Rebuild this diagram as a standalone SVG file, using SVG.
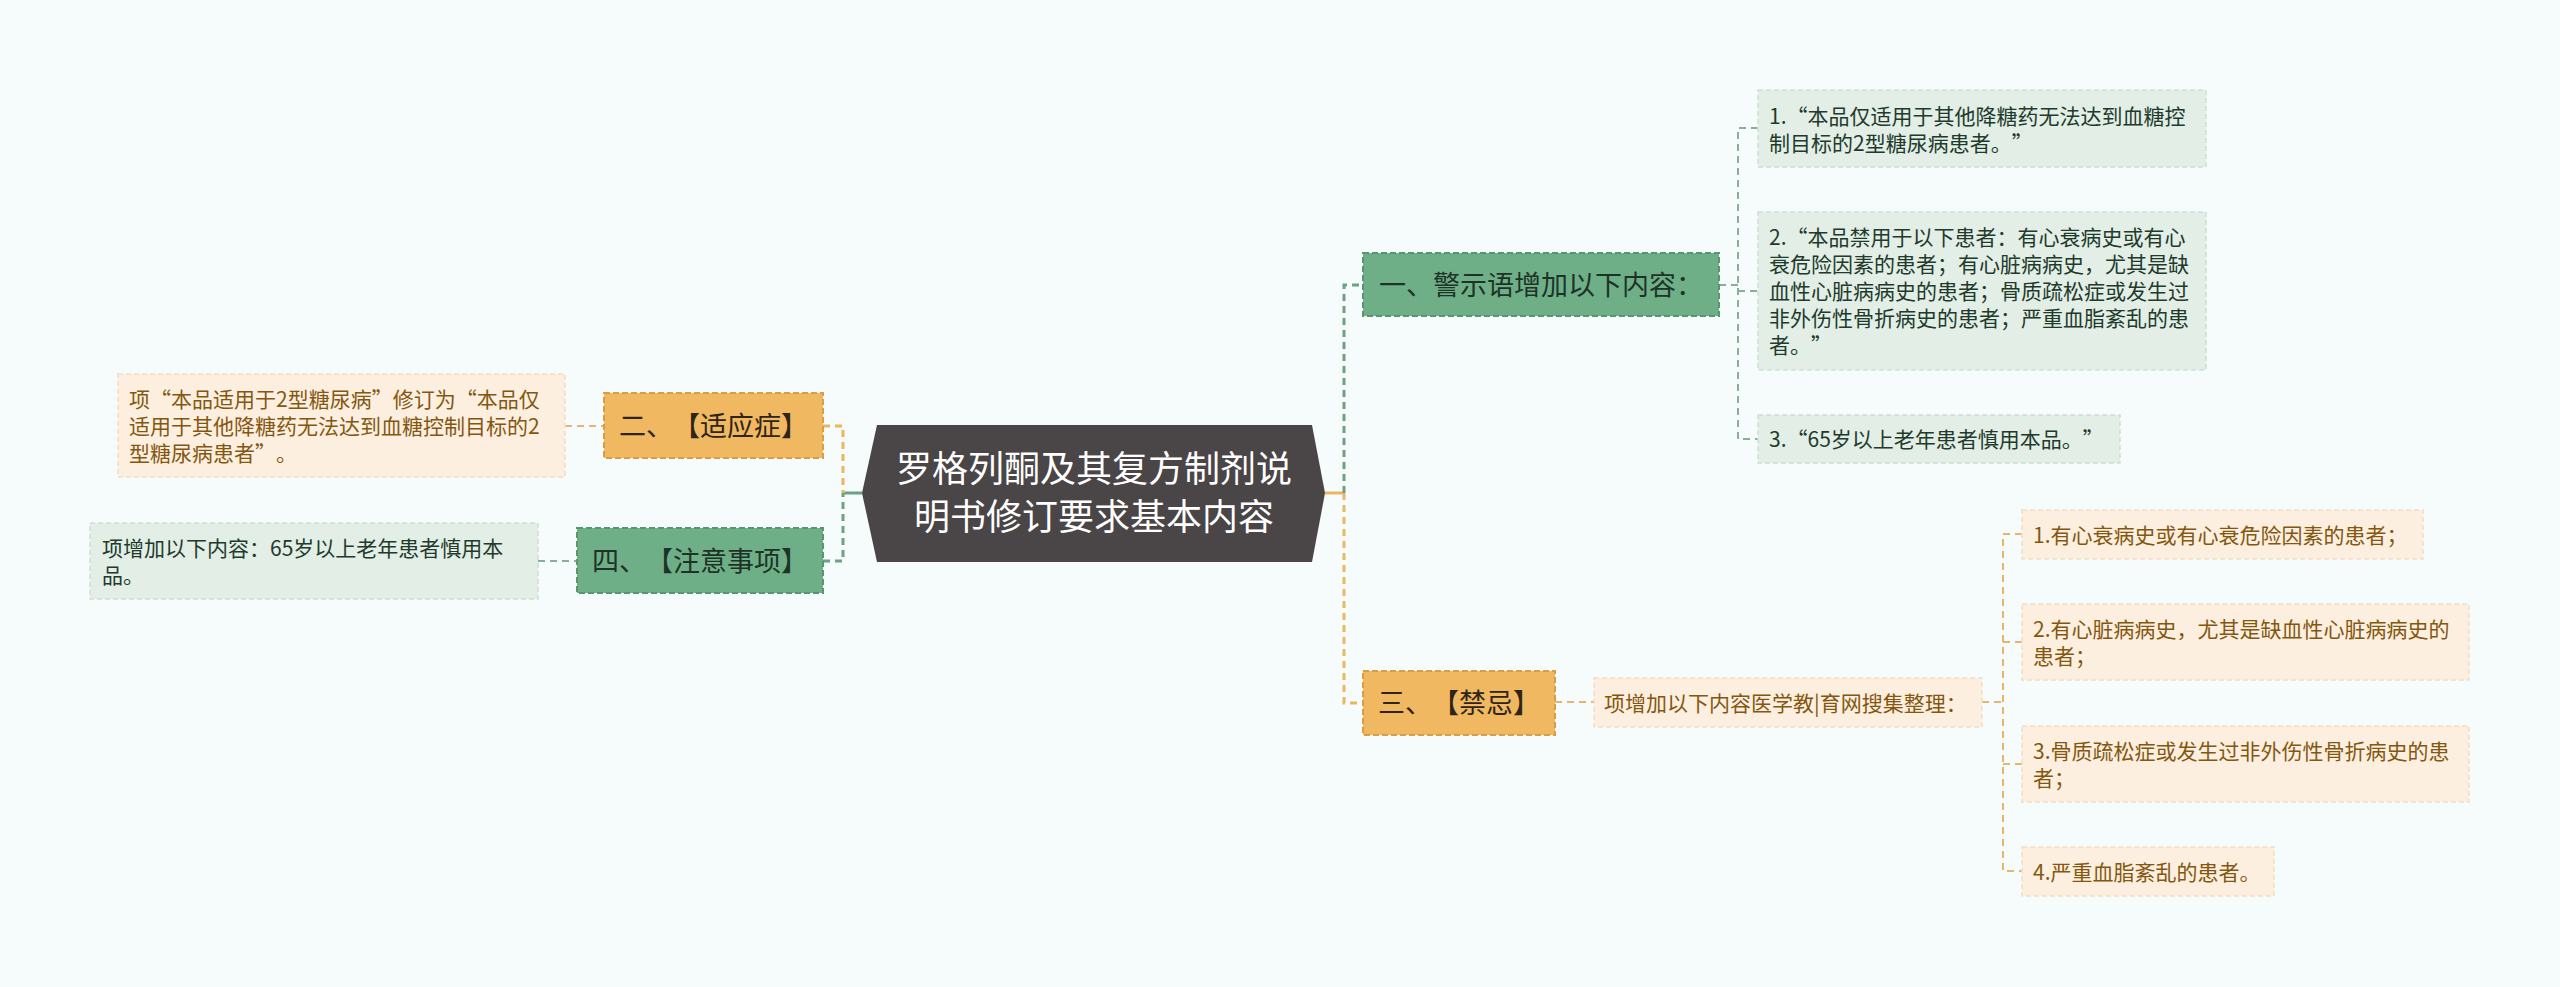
<svg xmlns="http://www.w3.org/2000/svg" width="2560" height="987" viewBox="0 0 2560 987">
<style>
text{font-family:"Noto Sans CJK SC","Noto Sans",sans-serif;text-spacing-trim:space-all;}
.root{font-size:36px;fill:#ffffff;text-anchor:middle;}
.br{font-size:27px;text-anchor:middle;}
.lf{font-size:21px;}
.obox{fill:#F0B961;stroke:#D99E45;stroke-width:2;stroke-dasharray:6 3;}
.gbox{fill:#6FAF87;stroke:#5A9572;stroke-width:2;stroke-dasharray:6 3;}
.olf{fill:#FCEFDF;stroke:#F3DEC4;stroke-width:1.5;stroke-dasharray:5 3;}
.glf{fill:#E2EEE6;stroke:#D0E0D6;stroke-width:1.5;stroke-dasharray:5 3;}
.otx{fill:#2E2418;}
.gtx{fill:#1E3327;}
.otl{fill:#845710;}
.gtl{fill:#213A2B;}
.co{fill:none;stroke:#EBB660;stroke-width:3;stroke-dasharray:7 5;}
.cg{fill:none;stroke:#6AA381;stroke-width:3;stroke-dasharray:7 5;}
.cos{fill:none;stroke:#EBB660;stroke-width:3;}
.cgs{fill:none;stroke:#6AA381;stroke-width:3;}
.lo{fill:none;stroke:#E6B56E;stroke-width:2;stroke-dasharray:7 5;}
.lg{fill:none;stroke:#8AAE98;stroke-width:2;stroke-dasharray:7 5;}
</style>
<rect width="2560" height="987" fill="#F6FBFB"/>
<g id="connectors">
<path class="cgs" d="M843,493 H862"/>
<path class="co" d="M823,426 H843 V493"/>
<path class="cg" d="M823,561 H843 V493"/>
<path class="lo" d="M565,426 H604"/>
<path class="lg" d="M538,561 H577"/>
<path class="cos" d="M1325,493 H1344"/>
<path class="cg" d="M1344,493 V285 H1363"/>
<path class="co" d="M1344,493 V703 H1363"/>
<path class="lg" d="M1719,285 H1738"/>
<path class="lg" d="M1758,128 H1738 V439 H1758"/>
<path class="lg" d="M1738,291 H1758"/>
<path class="lo" d="M1555,702 H1594"/>
<path class="lo" d="M1982,702 H2003"/>
<path class="lo" d="M2022,534 H2003 V871 H2022"/>
<path class="lo" d="M2003,642 H2022"/>
<path class="lo" d="M2003,764 H2022"/>
</g>
<g id="root">
<polygon points="877,425 1312,425 1325,493 1312,562 877,562 862,493" fill="#4A4546"/>
<text class="root" x="1094" y="482">罗格列酮及其复方制剂说</text>
<text class="root" x="1094" y="530">明书修订要求基本内容</text>
</g>
<g id="b2">
<rect class="obox" x="604" y="393" width="219" height="65"/>
<text class="br otx" x="713.5" y="436">二、【适应症】</text>
</g>
<g id="b2-leaf">
<rect class="olf" x="118" y="374" width="447" height="103"/>
<text class="lf otl" x="129" y="407">项“本品适用于2型糖尿病”修订为“本品仅</text>
<text class="lf otl" x="129" y="434">适用于其他降糖药无法达到血糖控制目标的2</text>
<text class="lf otl" x="129" y="461">型糖尿病患者”。</text>
</g>
<g id="b4">
<rect class="gbox" x="577" y="528" width="246" height="65"/>
<text class="br gtx" x="700" y="571">四、【注意事项】</text>
</g>
<g id="b4-leaf">
<rect class="glf" x="90" y="523" width="448" height="76"/>
<text class="lf gtl" x="102" y="556">项增加以下内容：65岁以上老年患者慎用本</text>
<text class="lf gtl" x="102" y="583">品。</text>
</g>
<g id="b1">
<rect class="gbox" x="1363" y="253" width="356" height="63"/>
<text class="br gtx" x="1541" y="295">一、警示语增加以下内容：</text>
</g>
<g id="b1-leaf1">
<rect class="glf" x="1758" y="90" width="448" height="77"/>
<text class="lf gtl" x="1769" y="124">1.“本品仅适用于其他降糖药无法达到血糖控</text>
<text class="lf gtl" x="1769" y="151">制目标的2型糖尿病患者。”</text>
</g>
<g id="b1-leaf2">
<rect class="glf" x="1758" y="212" width="448" height="158"/>
<text class="lf gtl" x="1769" y="245">2.“本品禁用于以下患者：有心衰病史或有心</text>
<text class="lf gtl" x="1769" y="272">衰危险因素的患者；有心脏病病史，尤其是缺</text>
<text class="lf gtl" x="1769" y="299">血性心脏病病史的患者；骨质疏松症或发生过</text>
<text class="lf gtl" x="1769" y="326">非外伤性骨折病史的患者；严重血脂紊乱的患</text>
<text class="lf gtl" x="1769" y="353">者。”</text>
</g>
<g id="b1-leaf3">
<rect class="glf" x="1758" y="415" width="362" height="48"/>
<text class="lf gtl" x="1769" y="447">3.“65岁以上老年患者慎用本品。”</text>
</g>
<g id="b3">
<rect class="obox" x="1363" y="671" width="192" height="64"/>
<text class="br otx" x="1459" y="713">三、【禁忌】</text>
</g>
<g id="b3-mid">
<rect class="olf" x="1594" y="678" width="388" height="49"/>
<text class="lf otl" x="1604" y="711">项增加以下内容医学教|育网搜集整理：</text>
</g>
<g id="b3-leaf1">
<rect class="olf" x="2022" y="510" width="401" height="49"/>
<text class="lf otl" x="2033" y="543">1.有心衰病史或有心衰危险因素的患者；</text>
</g>
<g id="b3-leaf2">
<rect class="olf" x="2022" y="604" width="447" height="76"/>
<text class="lf otl" x="2033" y="637">2.有心脏病病史，尤其是缺血性心脏病病史的</text>
<text class="lf otl" x="2033" y="664">患者；</text>
</g>
<g id="b3-leaf3">
<rect class="olf" x="2022" y="726" width="447" height="76"/>
<text class="lf otl" x="2033" y="759">3.骨质疏松症或发生过非外伤性骨折病史的患</text>
<text class="lf otl" x="2033" y="786">者；</text>
</g>
<g id="b3-leaf4">
<rect class="olf" x="2022" y="847" width="252" height="49"/>
<text class="lf otl" x="2033" y="880">4.严重血脂紊乱的患者。</text>
</g>
</svg>
